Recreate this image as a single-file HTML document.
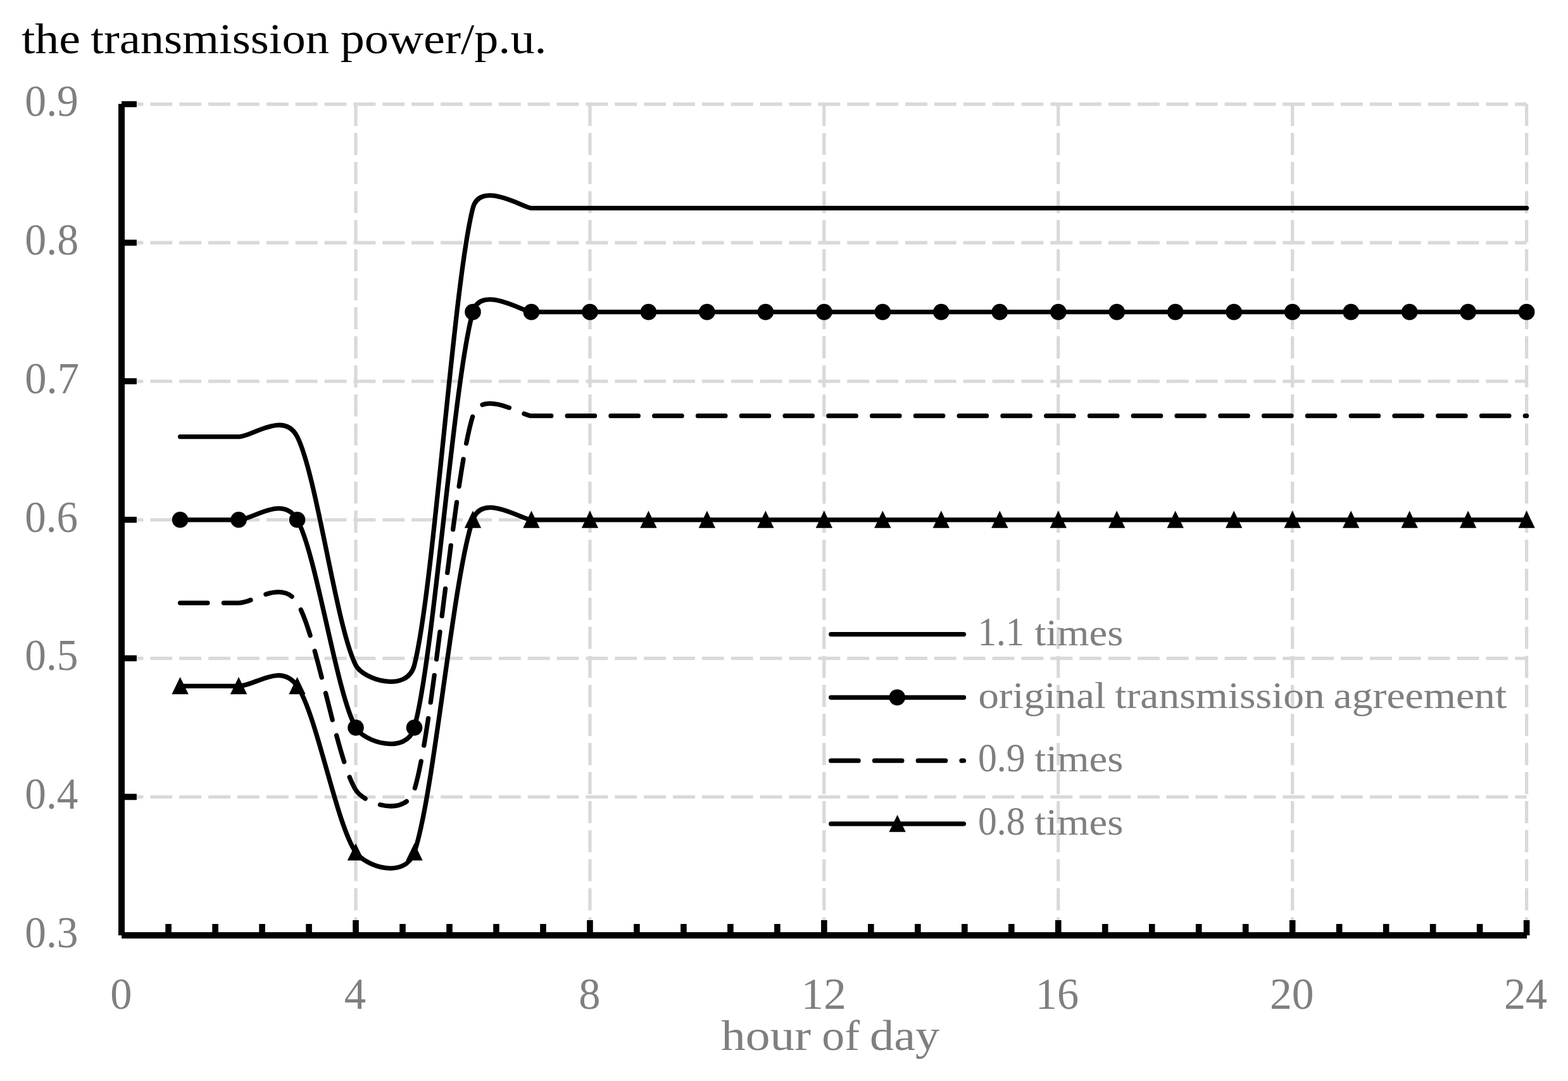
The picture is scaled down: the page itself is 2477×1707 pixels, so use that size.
<!DOCTYPE html>
<html lang="en"><head><meta charset="utf-8"><title>the transmission power/p.u.</title>
<style>html,body{margin:0;padding:0;background:#fff}body{width:2477px;height:1707px;overflow:hidden}svg{display:block}text{font-family:"Liberation Serif","DejaVu Serif",serif}</style></head><body>
<svg width="2477" height="1707" viewBox="0 0 2477 1707">
<rect width="2477" height="1707" fill="#fff"/>
<g fill="none" stroke="#d9d9d9" stroke-width="5.30" stroke-dasharray="34.90 10.97">
<path d="M191.50 1258.33 H2411.62"/>
<path d="M191.50 1039.57 H2411.62"/>
<path d="M191.50 820.80 H2411.62"/>
<path d="M191.50 602.03 H2411.62"/>
<path d="M191.50 383.27 H2411.62"/>
<path d="M191.50 164.50 H2411.62"/>
<path d="M562.02 164.10 V1477.10"/>
<path d="M931.94 164.10 V1477.10"/>
<path d="M1301.86 164.10 V1477.10"/>
<path d="M1671.78 164.10 V1477.10"/>
<path d="M2041.70 164.10 V1477.10"/>
<path d="M2411.62 164.10 V1477.10"/>
</g>
<text fill="#000"><tspan x="34.16" y="83.50" font-size="68.60" textLength="92.77" lengthAdjust="spacingAndGlyphs">the</tspan> <tspan x="143.27" y="83.50" font-size="68.60" textLength="376.76" lengthAdjust="spacingAndGlyphs">transmission</tspan> <tspan x="537.77" y="83.50" font-size="68.60" textLength="325.75" lengthAdjust="spacingAndGlyphs">power/p.u.</tspan></text>
<text x="39.34" y="1496.00" font-size="69.60" fill="#7f7f7f" textLength="84.09" lengthAdjust="spacingAndGlyphs">0.3</text>
<text x="39.34" y="1277.23" font-size="69.60" fill="#7f7f7f" textLength="84.01" lengthAdjust="spacingAndGlyphs">0.4</text>
<text x="39.34" y="1058.47" font-size="69.60" fill="#7f7f7f" textLength="84.09" lengthAdjust="spacingAndGlyphs">0.5</text>
<text x="39.35" y="839.70" font-size="69.60" fill="#7f7f7f" textLength="83.64" lengthAdjust="spacingAndGlyphs">0.6</text>
<text x="39.29" y="620.93" font-size="69.60" fill="#7f7f7f" textLength="85.79" lengthAdjust="spacingAndGlyphs">0.7</text>
<text x="39.31" y="402.17" font-size="69.60" fill="#7f7f7f" textLength="84.87" lengthAdjust="spacingAndGlyphs">0.8</text>
<text x="39.32" y="183.40" font-size="69.60" fill="#7f7f7f" textLength="84.66" lengthAdjust="spacingAndGlyphs">0.9</text>
<text x="174.34" y="1592.90" font-size="69.60" fill="#7f7f7f" textLength="34.27" lengthAdjust="spacingAndGlyphs">0</text>
<text x="543.72" y="1592.90" font-size="69.60" fill="#7f7f7f" textLength="34.36" lengthAdjust="spacingAndGlyphs">4</text>
<text x="914.34" y="1592.90" font-size="69.60" fill="#7f7f7f" textLength="34.27" lengthAdjust="spacingAndGlyphs">8</text>
<text x="1265.63" y="1592.90" font-size="69.60" fill="#7f7f7f" textLength="71.30" lengthAdjust="spacingAndGlyphs">12</text>
<text x="1635.74" y="1592.90" font-size="69.60" fill="#7f7f7f" textLength="68.40" lengthAdjust="spacingAndGlyphs">16</text>
<text x="2005.91" y="1592.90" font-size="69.60" fill="#7f7f7f" textLength="69.72" lengthAdjust="spacingAndGlyphs">20</text>
<text x="2376.05" y="1592.90" font-size="69.60" fill="#7f7f7f" textLength="68.06" lengthAdjust="spacingAndGlyphs">24</text>
<text fill="#7f7f7f"><tspan x="1139.04" y="1658.00" font-size="68.60" textLength="142.04" lengthAdjust="spacingAndGlyphs">hour</tspan> <tspan x="1298.26" y="1658.00" font-size="68.60" textLength="59.84" lengthAdjust="spacingAndGlyphs">of</tspan> <tspan x="1374.04" y="1658.00" font-size="68.60" textLength="110.15" lengthAdjust="spacingAndGlyphs">day</tspan></text>
<text fill="#7f7f7f"><tspan x="1544.51" y="1019.30" font-size="63.00" textLength="73.84" lengthAdjust="spacingAndGlyphs">1.1</tspan> <tspan x="1634.27" y="1018.90" font-size="60.00" textLength="140.07" lengthAdjust="spacingAndGlyphs">times</tspan></text>
<text fill="#7f7f7f"><tspan x="1545.43" y="1117.90" font-size="60.00" textLength="201.57" lengthAdjust="spacingAndGlyphs">original</tspan> <tspan x="1761.26" y="1117.90" font-size="60.00" textLength="331.53" lengthAdjust="spacingAndGlyphs">transmission</tspan> <tspan x="2106.49" y="1117.90" font-size="60.00" textLength="273.70" lengthAdjust="spacingAndGlyphs">agreement</tspan></text>
<text fill="#7f7f7f"><tspan x="1544.92" y="1218.30" font-size="63.00" textLength="74.73" lengthAdjust="spacingAndGlyphs">0.9</tspan> <tspan x="1634.27" y="1217.90" font-size="60.00" textLength="140.07" lengthAdjust="spacingAndGlyphs">times</tspan></text>
<text fill="#7f7f7f"><tspan x="1544.93" y="1318.30" font-size="63.00" textLength="74.54" lengthAdjust="spacingAndGlyphs">0.8</tspan> <tspan x="1634.27" y="1317.90" font-size="60.00" textLength="140.07" lengthAdjust="spacingAndGlyphs">times</tspan></text>
<g fill="none" stroke="#000" stroke-width="7.30" stroke-linecap="round" stroke-linejoin="round">
<path d="M284.58 689.54L377.06 689.54C398.15 689.54 448.45 648.39 469.54 689.54C500.37 749.70 531.19 990.34 562.02 1050.50C573.50 1072.90 643.02 1095.30 654.50 1050.50C685.33 930.18 716.15 448.90 746.98 328.57C758.46 283.78 827.98 328.57 839.46 328.57L931.94 328.57L1024.42 328.57L1116.90 328.57L1209.38 328.57L1301.86 328.57L1394.34 328.57L1486.82 328.57L1579.30 328.57L1671.78 328.57L1764.26 328.57L1856.74 328.57L1949.22 328.57L2041.70 328.57L2134.18 328.57L2226.66 328.57L2319.14 328.57L2411.62 328.57"/>
<path d="M284.58 820.80L377.06 820.80C399.76 820.80 446.84 780.52 469.54 820.80C500.37 875.49 531.19 1094.26 562.02 1148.95C574.56 1171.20 641.96 1193.46 654.50 1148.95C685.33 1039.57 716.15 602.03 746.98 492.65C759.52 448.14 826.92 492.65 839.46 492.65L931.94 492.65L1024.42 492.65L1116.90 492.65L1209.38 492.65L1301.86 492.65L1394.34 492.65L1486.82 492.65L1579.30 492.65L1671.78 492.65L1764.26 492.65L1856.74 492.65L1949.22 492.65L2041.70 492.65L2134.18 492.65L2226.66 492.65L2319.14 492.65L2411.62 492.65"/>
<path d="M284.58 952.06L377.06 952.06C401.60 952.06 445.00 912.87 469.54 952.06C500.37 1001.28 531.19 1198.17 562.02 1247.39C575.84 1269.46 640.68 1291.52 654.50 1247.39C685.33 1148.95 716.15 755.17 746.98 656.72C760.80 612.60 825.64 656.72 839.46 656.72L931.94 656.72L1024.42 656.72L1116.90 656.72L1209.38 656.72L1301.86 656.72L1394.34 656.72L1486.82 656.72L1579.30 656.72L1671.78 656.72L1764.26 656.72L1856.74 656.72L1949.22 656.72L2041.70 656.72L2134.18 656.72L2226.66 656.72L2319.14 656.72L2411.62 656.72" stroke-dasharray="43.40 25.38"/>
<path d="M284.58 1083.32L377.06 1083.32C403.69 1083.32 442.91 1045.52 469.54 1083.32C500.37 1127.07 531.19 1302.09 562.02 1345.84C577.38 1367.65 639.14 1389.45 654.50 1345.84C685.33 1258.33 716.15 908.31 746.98 820.80C762.34 777.19 824.10 820.80 839.46 820.80L931.94 820.80L1024.42 820.80L1116.90 820.80L1209.38 820.80L1301.86 820.80L1394.34 820.80L1486.82 820.80L1579.30 820.80L1671.78 820.80L1764.26 820.80L1856.74 820.80L1949.22 820.80L2041.70 820.80L2134.18 820.80L2226.66 820.80L2319.14 820.80L2411.62 820.80"/>
<path d="M1312.70 1001.60 H1522.50"/>
<path d="M1312.70 1101.30 H1522.50"/>
<path d="M1312.70 1201.20 H1522.50" stroke-dasharray="43.40 25.38"/>
<path d="M1312.70 1300.90 H1522.50"/>
</g>
<g fill="#000">
<circle cx="284.58" cy="820.80" r="12.80"/>
<circle cx="377.06" cy="820.80" r="12.80"/>
<circle cx="469.54" cy="820.80" r="12.80"/>
<circle cx="562.02" cy="1148.95" r="12.80"/>
<circle cx="654.50" cy="1148.95" r="12.80"/>
<circle cx="746.98" cy="492.65" r="12.80"/>
<circle cx="839.46" cy="492.65" r="12.80"/>
<circle cx="931.94" cy="492.65" r="12.80"/>
<circle cx="1024.42" cy="492.65" r="12.80"/>
<circle cx="1116.90" cy="492.65" r="12.80"/>
<circle cx="1209.38" cy="492.65" r="12.80"/>
<circle cx="1301.86" cy="492.65" r="12.80"/>
<circle cx="1394.34" cy="492.65" r="12.80"/>
<circle cx="1486.82" cy="492.65" r="12.80"/>
<circle cx="1579.30" cy="492.65" r="12.80"/>
<circle cx="1671.78" cy="492.65" r="12.80"/>
<circle cx="1764.26" cy="492.65" r="12.80"/>
<circle cx="1856.74" cy="492.65" r="12.80"/>
<circle cx="1949.22" cy="492.65" r="12.80"/>
<circle cx="2041.70" cy="492.65" r="12.80"/>
<circle cx="2134.18" cy="492.65" r="12.80"/>
<circle cx="2226.66" cy="492.65" r="12.80"/>
<circle cx="2319.14" cy="492.65" r="12.80"/>
<circle cx="2411.62" cy="492.65" r="12.80"/>
<circle cx="1417.30" cy="1101.30" r="12.80"/>
<path d="M284.58 1069.12L297.78 1096.22L271.38 1096.22Z"/>
<path d="M377.06 1069.12L390.26 1096.22L363.86 1096.22Z"/>
<path d="M469.54 1069.12L482.74 1096.22L456.34 1096.22Z"/>
<path d="M562.02 1331.64L575.22 1358.74L548.82 1358.74Z"/>
<path d="M654.50 1331.64L667.70 1358.74L641.30 1358.74Z"/>
<path d="M746.98 806.60L760.18 833.70L733.78 833.70Z"/>
<path d="M839.46 806.60L852.66 833.70L826.26 833.70Z"/>
<path d="M931.94 806.60L945.14 833.70L918.74 833.70Z"/>
<path d="M1024.42 806.60L1037.62 833.70L1011.22 833.70Z"/>
<path d="M1116.90 806.60L1130.10 833.70L1103.70 833.70Z"/>
<path d="M1209.38 806.60L1222.58 833.70L1196.18 833.70Z"/>
<path d="M1301.86 806.60L1315.06 833.70L1288.66 833.70Z"/>
<path d="M1394.34 806.60L1407.54 833.70L1381.14 833.70Z"/>
<path d="M1486.82 806.60L1500.02 833.70L1473.62 833.70Z"/>
<path d="M1579.30 806.60L1592.50 833.70L1566.10 833.70Z"/>
<path d="M1671.78 806.60L1684.98 833.70L1658.58 833.70Z"/>
<path d="M1764.26 806.60L1777.46 833.70L1751.06 833.70Z"/>
<path d="M1856.74 806.60L1869.94 833.70L1843.54 833.70Z"/>
<path d="M1949.22 806.60L1962.42 833.70L1936.02 833.70Z"/>
<path d="M2041.70 806.60L2054.90 833.70L2028.50 833.70Z"/>
<path d="M2134.18 806.60L2147.38 833.70L2120.98 833.70Z"/>
<path d="M2226.66 806.60L2239.86 833.70L2213.46 833.70Z"/>
<path d="M2319.14 806.60L2332.34 833.70L2305.94 833.70Z"/>
<path d="M2411.62 806.60L2424.82 833.70L2398.42 833.70Z"/>
<path d="M1417.60 1286.70L1430.80 1313.80L1404.40 1313.80Z"/>
</g>
<g fill="none" stroke="#000" stroke-linecap="butt">
<path stroke-width="10.00" d="M192.00 164.10 V1476.90"/>
<path stroke-width="10.00" d="M192.10 1477.10 H2412.02"/>
<path stroke-width="9.60" d="M192.10 1258.33h23.80M192.10 1039.57h23.80M192.10 820.80h23.80M192.10 602.03h23.80M192.10 383.27h23.80M192.10 164.50h23.80M266.08 1477.10v-18.00M340.07 1477.10v-18.00M414.05 1477.10v-18.00M488.04 1477.10v-18.00M562.02 1477.10v-24.00M636.00 1477.10v-18.00M709.99 1477.10v-18.00M783.97 1477.10v-18.00M857.96 1477.10v-18.00M931.94 1477.10v-24.00M1005.92 1477.10v-18.00M1079.91 1477.10v-18.00M1153.89 1477.10v-18.00M1227.88 1477.10v-18.00M1301.86 1477.10v-24.00M1375.84 1477.10v-18.00M1449.83 1477.10v-18.00M1523.81 1477.10v-18.00M1597.80 1477.10v-18.00M1671.78 1477.10v-24.00M1745.76 1477.10v-18.00M1819.75 1477.10v-18.00M1893.73 1477.10v-18.00M1967.72 1477.10v-18.00M2041.70 1477.10v-24.00M2115.68 1477.10v-18.00M2189.67 1477.10v-18.00M2263.65 1477.10v-18.00M2337.64 1477.10v-18.00M2411.62 1477.10v-24.00"/>
</g>
</svg></body></html>
